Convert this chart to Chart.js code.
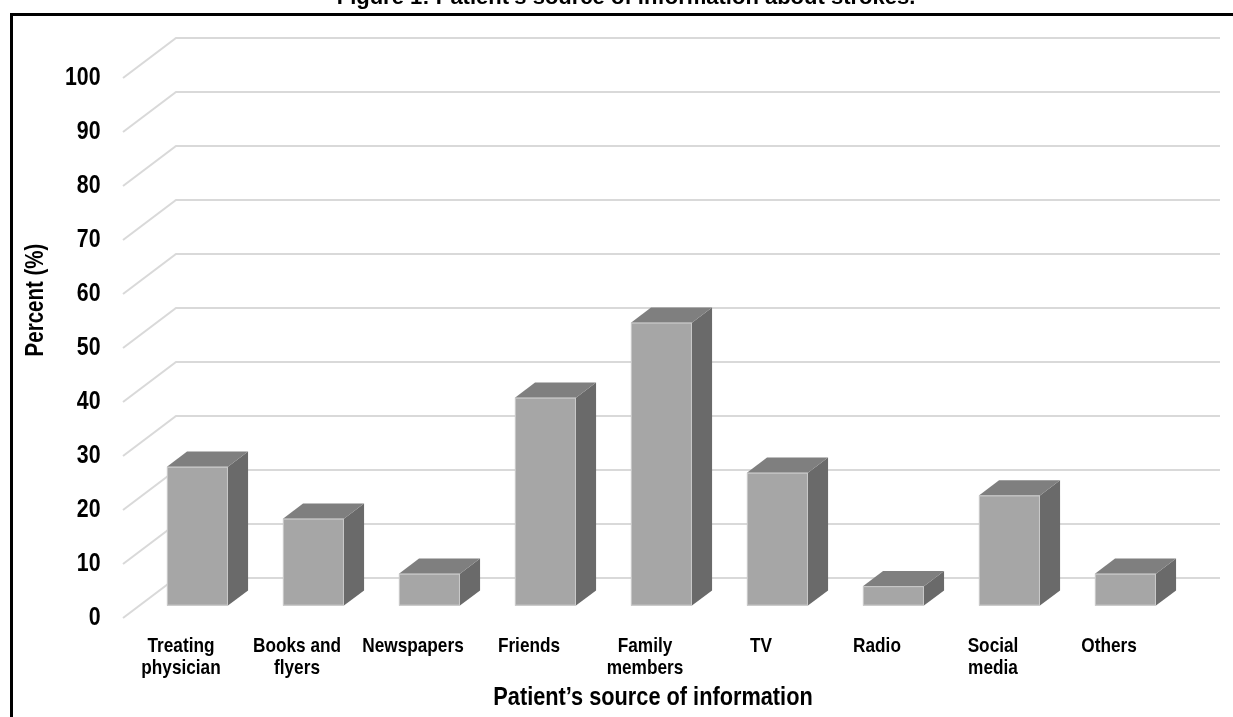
<!DOCTYPE html>
<html>
<head>
<meta charset="utf-8">
<script src="https://cdn.jsdelivr.net/npm/chart.js@4.4.1/dist/chart.umd.min.js"></script>
<style>
  html, body { margin: 0; padding: 0; background: #ffffff; }
  #wrap { position: relative; width: 1233px; height: 717px; }
</style>
</head>
<body>
<div id="wrap"><canvas id="chart" width="1233" height="717"></canvas></div>
<script>
// Sources of information about strokes reported by patients (percent)
const categories = [
  ['Treating', 'physician'],
  ['Books and', 'flyers'],
  'Newspapers',
  'Friends',
  ['Family', 'members'],
  'TV',
  'Radio',
  ['Social', 'media'],
  'Others'
];
const percentValues = [25.7, 16.1, 5.9, 38.5, 52.4, 24.6, 3.6, 20.4, 5.9];
const yTickValues = [0, 10, 20, 30, 40, 50, 60, 70, 80, 90, 100];

const figureTitle = 'Figure 1: Patient\u2019s source of information about strokes.';
const yAxisTitle = 'Percent (%)';
const xAxisTitle = 'Patient\u2019s source of information';

const SANS = "'Liberation Sans', Arial, sans-serif";
// condensed look: bold sans squeezed horizontally
const SQUEEZE = 0.82;

// 3-D look: depth of the floor / walls and of each box
const WALL = { dx: 53, dy: -40 };
const BOX_FRONT = 0.31;   // front face sits this far into the floor depth
const BOX_DEPTH = 0.38;   // box depth as share of the floor depth

const COLORS = {
  front: '#a6a6a6',
  top: '#7f7f7f',
  side: '#6a6a6a',
  edge: 'rgba(205,205,205,0.9)',
  grid: '#d9d9d9',
  text: '#000000'
};

function drawSqueezed(ctx, text, x, y, size, squeeze, align, baseline) {
  ctx.save();
  ctx.translate(x, y);
  ctx.scale(squeeze, 1);
  ctx.font = 'bold ' + size + 'px ' + SANS;
  ctx.textAlign = align;
  ctx.textBaseline = baseline;
  ctx.fillStyle = COLORS.text;
  ctx.fillText(text, 0, 0);
  ctx.restore();
}

const pseudo3d = {
  id: 'pseudo3d',
  beforeDraw(chart) {
    const { ctx, width, height } = chart;
    ctx.save();
    ctx.fillStyle = '#ffffff';
    ctx.fillRect(0, 0, width, height);
    // frame around the figure
    ctx.strokeStyle = '#000000';
    ctx.lineWidth = 3;
    ctx.beginPath();
    ctx.moveTo(11.5, height + 2);
    ctx.lineTo(11.5, 14.5);
    ctx.lineTo(width + 2, 14.5);
    ctx.stroke();
    ctx.restore();
  },
  beforeDatasetsDraw(chart) {
    const { ctx, chartArea, scales } = chart;
    const y = scales.y;
    ctx.save();
    ctx.strokeStyle = COLORS.grid;
    ctx.lineWidth = 2;
    yTickValues.forEach(v => {
      const py = y.getPixelForValue(v);
      ctx.beginPath();
      ctx.moveTo(chartArea.left, py);
      ctx.lineTo(chartArea.left + WALL.dx, py + WALL.dy);
      ctx.lineTo(chartArea.right + WALL.dx, py + WALL.dy);
      ctx.stroke();
    });
    ctx.restore();
  },
  afterDatasetsDraw(chart) {
    const { ctx } = chart;
    const meta = chart.getDatasetMeta(0);
    const sx = WALL.dx * BOX_FRONT, sy = WALL.dy * BOX_FRONT;
    const bx = WALL.dx * BOX_DEPTH, by = WALL.dy * BOX_DEPTH;
    ctx.save();
    meta.data.forEach(bar => {
      const p = bar.getProps(['x', 'y', 'base', 'width'], true);
      const x0 = p.x - p.width / 2 + sx;
      const x1 = p.x + p.width / 2 + sx;
      const yt = p.y + sy;
      const yb = p.base + sy;
      // side face
      ctx.fillStyle = COLORS.side;
      ctx.beginPath();
      ctx.moveTo(x1, yt);
      ctx.lineTo(x1 + bx, yt + by);
      ctx.lineTo(x1 + bx, yb + by);
      ctx.lineTo(x1, yb);
      ctx.closePath();
      ctx.fill();
      // top face
      ctx.fillStyle = COLORS.top;
      ctx.beginPath();
      ctx.moveTo(x0, yt);
      ctx.lineTo(x0 + bx, yt + by);
      ctx.lineTo(x1 + bx, yt + by);
      ctx.lineTo(x1, yt);
      ctx.closePath();
      ctx.fill();
      // front face
      ctx.fillStyle = COLORS.front;
      ctx.fillRect(x0, yt, x1 - x0, yb - yt);
      ctx.strokeStyle = COLORS.edge;
      ctx.lineWidth = 1;
      ctx.strokeRect(x0 + 0.5, yt + 0.5, x1 - x0 - 1, yb - yt - 1);
    });
    ctx.restore();
  },
  afterDraw(chart) {
    const { ctx, chartArea, scales } = chart;
    // value axis labels
    scales.y.ticks.forEach(t => {
      drawSqueezed(ctx, String(t.value), chartArea.left - 22.5,
        scales.y.getPixelForValue(t.value), 26, SQUEEZE, 'right', 'middle');
    });
    // category labels, one or two lines each
    categories.forEach((label, i) => {
      const lines = Array.isArray(label) ? label : [label];
      const cx = scales.x.getPixelForTick(i);
      lines.forEach((line, k) => {
        drawSqueezed(ctx, line, cx, chartArea.bottom + 34 + k * 22, 21, SQUEEZE, 'center', 'alphabetic');
      });
    });
    // axis titles
    drawSqueezed(ctx, xAxisTitle, 653, chartArea.bottom + 87, 25, 0.87, 'center', 'alphabetic');
    ctx.save();
    ctx.translate(36, 300);
    ctx.rotate(-Math.PI / 2);
    drawSqueezed(ctx, yAxisTitle, 0, 0, 25, SQUEEZE, 'center', 'middle');
    ctx.restore();
    // figure caption, running off the top edge
    ctx.save();
    ctx.font = 'bold 22px ' + SANS;
    ctx.fillStyle = COLORS.text;
    ctx.textAlign = 'center';
    ctx.textBaseline = 'alphabetic';
    ctx.fillText(figureTitle, 626, 4);
    ctx.restore();
  }
};

new Chart(document.getElementById('chart'), {
  type: 'bar',
  data: {
    labels: categories,
    datasets: [{
      label: 'Percent',
      data: percentValues,
      backgroundColor: 'rgba(0,0,0,0)',
      borderWidth: 0,
      barPercentage: 0.526,
      categoryPercentage: 1
    }]
  },
  options: {
    responsive: false,
    animation: false,
    devicePixelRatio: 1,
    layout: { padding: { top: 78, right: 66, bottom: 0, left: 0 } },
    plugins: {
      legend: { display: false },
      tooltip: { enabled: false },
      title: { display: false }
    },
    scales: {
      x: {
        offset: true,
        grid: { display: false, drawTicks: false },
        border: { display: false },
        ticks: { display: false, autoSkip: false },
        afterFit(scale) { scale.height = 99; }
      },
      y: {
        min: 0,
        max: 100,
        grid: { display: false, drawTicks: false },
        border: { display: false },
        ticks: { display: false, stepSize: 10 },
        afterFit(scale) { scale.width = 123; }
      }
    }
  },
  plugins: [pseudo3d]
});
</script>
</body>
</html>
